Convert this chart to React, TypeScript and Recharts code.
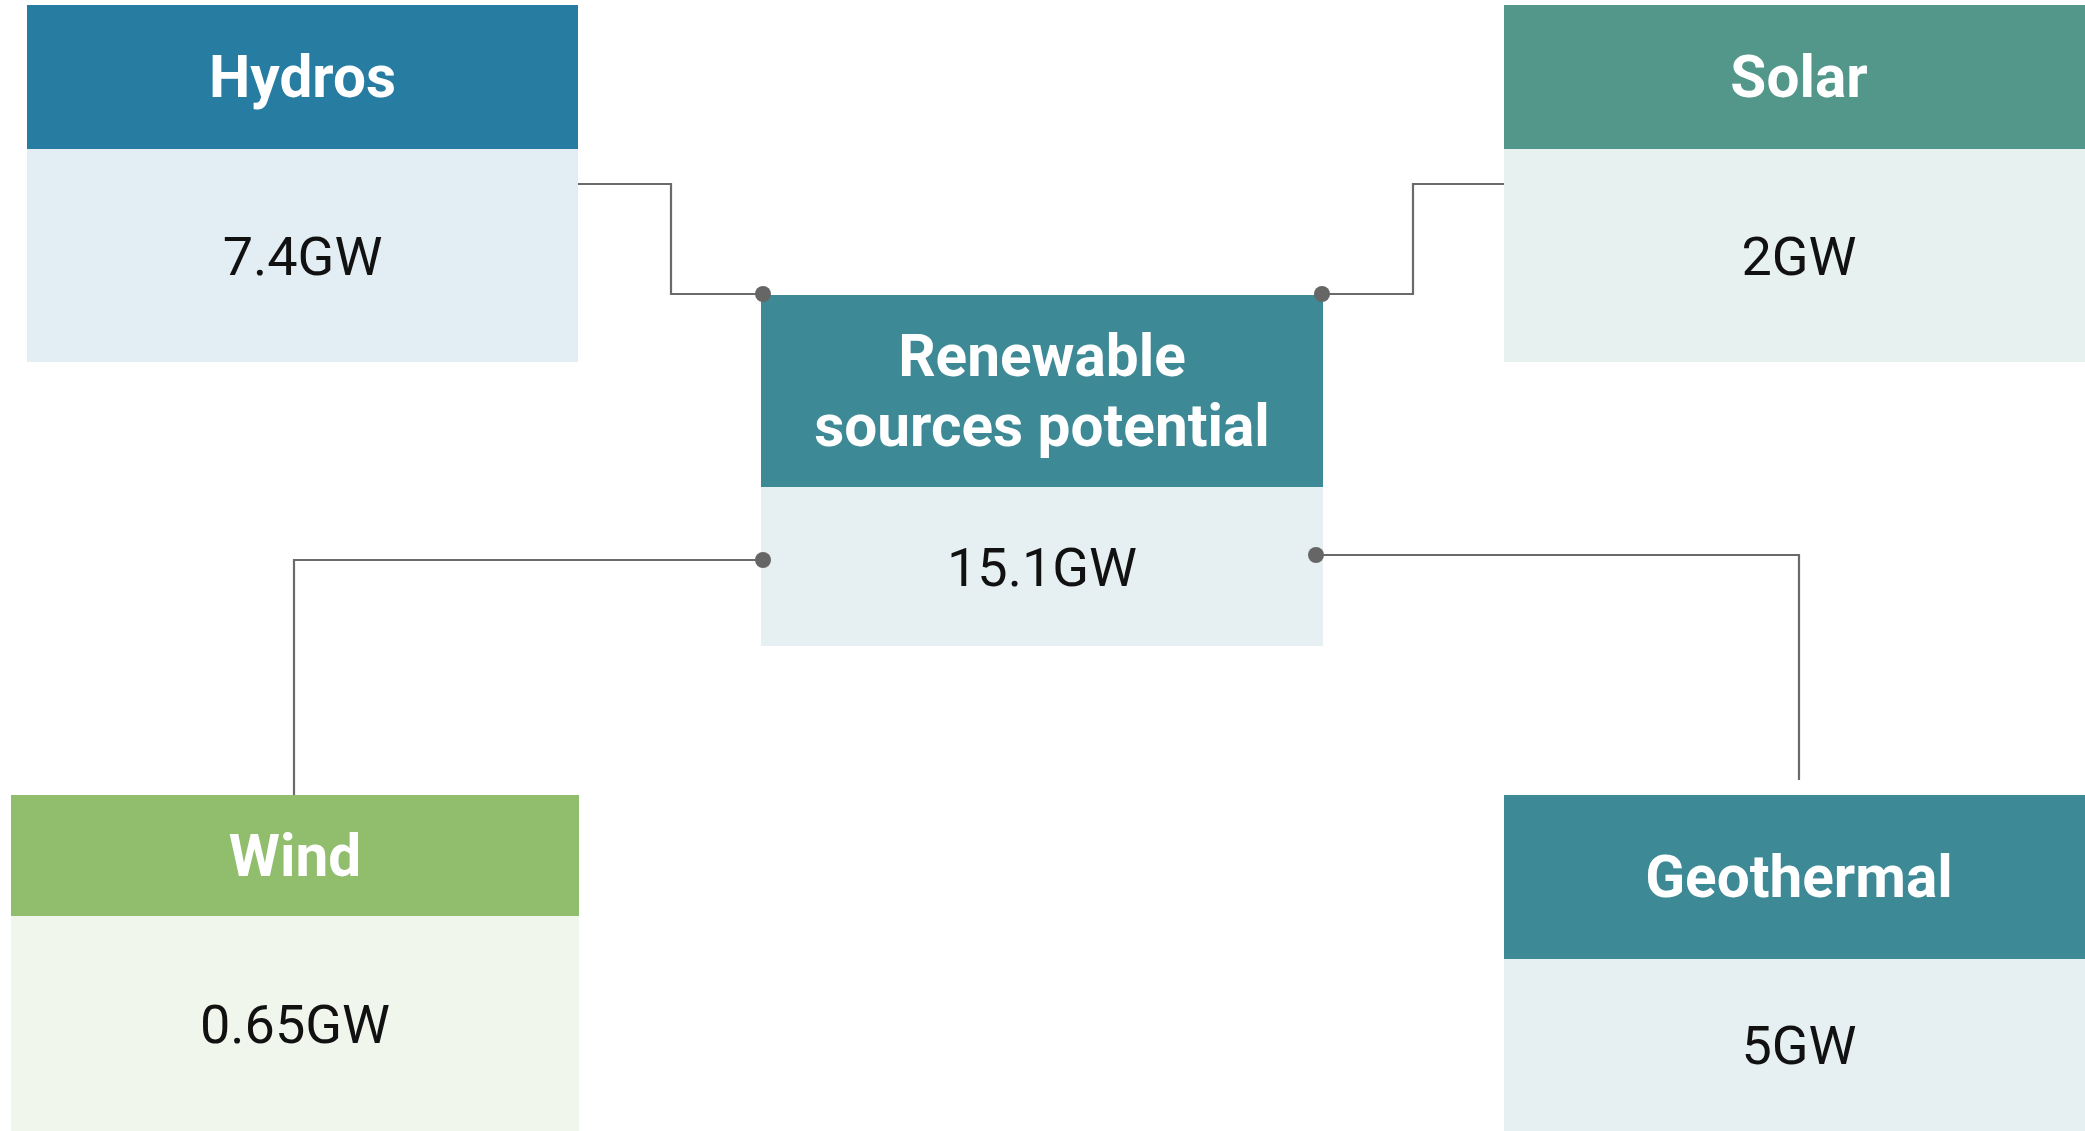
import React from 'react';
import { ComposedChart, XAxis, YAxis, ReferenceArea, ReferenceDot, Line } from 'recharts';

// node titles and their capacity (GW)
const sourceNames = ['Hydros', 'Solar', 'Renewable\nsources potential', 'Wind', 'Geothermal'];
const capacityGW = [7.4, 2, 15.1, 0.65, 5];
const unit = 'GW';

const W = 2085;
const H = 1131;

// box layout in chart units (x right, y down); right column runs a little past the edge
const boxes = [
  { x1: 27, x2: 578, top: 5, split: 149, bottom: 362, head: '#277DA1', body: '#E2EEF4' },
  { x1: 1504, x2: 2094, top: 5, split: 149, bottom: 362, head: '#52978A', body: '#E7F1EF' },
  { x1: 761, x2: 1323, top: 295, split: 487, bottom: 646, head: '#3D8A96', body: '#E6F0F2' },
  { x1: 11, x2: 579, top: 795, split: 916, bottom: 1131, head: '#90BE6D', body: '#F0F6EC' },
  { x1: 1504, x2: 2094, top: 795, split: 959, bottom: 1131, head: '#3D8A96', body: '#E6EFF2' },
];

// elbow connectors between the outer boxes and the centre box
const connectors = [
  [{ x: 578, y: 184 }, { x: 671, y: 184 }, { x: 671, y: 294 }, { x: 763, y: 294 }],
  [{ x: 1504, y: 184 }, { x: 1413, y: 184 }, { x: 1413, y: 294 }, { x: 1322, y: 294 }],
  [{ x: 763, y: 560 }, { x: 294, y: 560 }, { x: 294, y: 795 }],
  [{ x: 1316, y: 555 }, { x: 1799, y: 555 }, { x: 1799, y: 780 }],
];
const joints = [
  { x: 763, y: 294 },
  { x: 1322, y: 294 },
  { x: 763, y: 560 },
  { x: 1316, y: 555 },
];

const font = 'Roboto, "Noto Sans", sans-serif';

const boxText = (lines: string[], bold: boolean, size: number, color: string, lineGap: number) =>
  (props: any) => {
    const vb = props.viewBox || {};
    const cx = vb.x + vb.width / 2;
    const cy = vb.y + vb.height / 2;
    const start = cy - ((lines.length - 1) * lineGap) / 2;
    return (
      <text
        x={cx}
        y={start}
        textAnchor="middle"
        dominantBaseline="central"
        fill={color}
        style={{ fontFamily: font, fontSize: size, fontWeight: bold ? 700 : 400 }}
      >
        {lines.map((l, i) => (
          <tspan key={i} x={cx} y={start + i * lineGap} dominantBaseline="central">
            {l}
          </tspan>
        ))}
      </text>
    );
  };

export default function App() {
  return (
    <div style={{ position: 'absolute', left: 0, top: 0, width: W, height: H, background: '#fff', overflow: 'hidden' }}>
      <ComposedChart width={W} height={H} margin={{ top: 0, right: 0, bottom: 0, left: 0 }}>
        <XAxis type="number" dataKey="x" domain={[0, W]} hide allowDataOverflow />
        <YAxis type="number" dataKey="y" domain={[0, H]} reversed hide allowDataOverflow />

        {boxes.map((b, i) => (
          <ReferenceArea
            key={`h${i}`}
            x1={b.x1}
            x2={b.x2}
            y1={b.top}
            y2={b.split}
            ifOverflow="visible"
            fill={b.head}
            fillOpacity={1}
            stroke="none"
            label={{ content: boxText(sourceNames[i].split('\n'), true, 58.5, '#ffffff', 70) }}
          />
        ))}
        {boxes.map((b, i) => (
          <ReferenceArea
            key={`b${i}`}
            x1={b.x1}
            x2={b.x2}
            y1={b.split}
            y2={b.bottom}
            ifOverflow="visible"
            fill={b.body}
            fillOpacity={1}
            stroke="none"
            label={{ content: boxText([`${capacityGW[i]}${unit}`], false, 54, '#111111', 0) }}
          />
        ))}

        {connectors.map((pts, i) => (
          <Line
            key={`c${i}`}
            data={pts}
            dataKey="y"
            type="linear"
            stroke="#6a6a6a"
            strokeWidth={2.2}
            dot={false}
            activeDot={false}
            isAnimationActive={false}
          />
        ))}

        {joints.map((p, i) => (
          <ReferenceDot key={`d${i}`} x={p.x} y={p.y} r={8} fill="#666666" stroke="none" />
        ))}
      </ComposedChart>
    </div>
  );
}
